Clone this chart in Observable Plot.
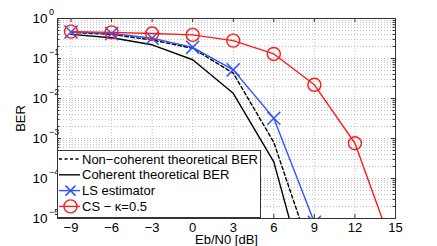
<!DOCTYPE html>
<html><head><meta charset="utf-8">
<script src="https://cdn.jsdelivr.net/npm/d3@7"></script>
<script src="https://cdn.jsdelivr.net/npm/@observablehq/plot@0.6"></script>
<style>body{margin:0;background:#fff}</style>
</head><body><div id="chart"></div>
<script>
const snr = [-9, -6, -3, 0, 3, 6, 9, 12, 15];
const coherent = [0.40, 0.33, 0.22, 0.093, 0.0135, 2.6e-4, 5e-8];
const noncoherent = [0.45, 0.40, 0.29, 0.18, 0.043, 8e-4, 8e-7];
const lsEstimator = [0.46, 0.42, 0.32, 0.19, 0.052, 3.2e-3, 8e-6];
const csKappa = [0.47, 0.45, 0.42, 0.39, 0.28, 0.13, 0.022, 7.6e-4, 1.2e-6];
const seriesNames = ["Non\u2212coherent theoretical BER", "Coherent theoretical BER", "LS estimator", "CS \u2212 \u03ba=0.5"];
const xTicks = [-9, -6, -3, 0, 3, 6, 9, 12, 15];
const yExponents = [0, -1, -2, -3, -4, -5];

const BLUE = "#2f55ff", RED = "#ff1a1a";
const toRows = (vals) => vals.map((v, i) => ({x: snr[i], y: v}));
const rowsCoh = toRows(coherent), rowsNon = toRows(noncoherent), rowsLS = toRows(lsEstimator), rowsCS = toRows(csKappa);
const yMajor = yExponents.map(e => Math.pow(10, e));
const yMinor = [];
for (const e of yExponents) if (e < 0) for (let m = 2; m <= 9; m++) yMinor.push(m * Math.pow(10, e));

const W = 437, H = 246, ML = 57, MR = 42, MT = 18, MB = 28;
const FW = W - ML - MR, FH = H - MT - MB;
const font = "Liberation Sans, Arial, Helvetica, sans-serif";
const grid = {stroke: "#b0b0b0", strokeDasharray: "1,2", strokeWidth: 0.8};
const supMinus = e => e < 0 ? "\u2212" + (-e) : String(e);
const noLab = () => "";
const tk = {stroke: "#333", strokeWidth: 1};

const svg = Plot.plot({
  width: W, height: H,
  marginLeft: ML, marginRight: MR, marginTop: MT, marginBottom: MB,
  style: {fontFamily: font, fontSize: "13px", background: "#fff", color: "#000"},
  x: {domain: [-10, 15]},
  y: {type: "log", domain: [1e-5, 1]},
  marks: [
    Plot.ruleY(yMinor, {...grid}),
    Plot.ruleY(yMajor.slice(1, -1), {...grid}),
    Plot.ruleX(xTicks.slice(0, -1), {...grid}),
    Plot.line(rowsNon, {x: "x", y: "y", stroke: "#000", strokeWidth: 1.4, strokeDasharray: "3.5,2.5", clip: true}),
    Plot.line(rowsCoh, {x: "x", y: "y", stroke: "#000", strokeWidth: 1.4, clip: true}),
    Plot.line(rowsLS, {x: "x", y: "y", stroke: BLUE, strokeWidth: 1.4, clip: true}),
    Plot.dot(rowsLS, {x: "x", y: "y", symbol: "times", r: 6, stroke: BLUE, strokeWidth: 1.5, clip: true}),
    Plot.line(rowsCS, {x: "x", y: "y", stroke: RED, strokeWidth: 1.4, clip: true}),
    Plot.dot(rowsCS, {x: "x", y: "y", symbol: "circle", r: 6.5, stroke: RED, strokeWidth: 1.4, fill: "none", clip: true}),
    // inward tick marks on all four sides
    Plot.tickY(yMajor, {y: d => d, ...tk, insetRight: FW - 4}),
    Plot.tickY(yMajor, {y: d => d, ...tk, insetLeft: FW - 4}),
    Plot.tickY(yMinor, {y: d => d, ...tk, insetRight: FW - 2.5}),
    Plot.tickY(yMinor, {y: d => d, ...tk, insetLeft: FW - 2.5}),
    Plot.tickX(xTicks, {x: d => d, ...tk, insetTop: FH - 4}),
    Plot.tickX(xTicks, {x: d => d, ...tk, insetBottom: FH - 4}),
    Plot.axisX({ticks: xTicks, tickSize: 0, tickPadding: 4, fontSize: 13, label: "Eb/N0 [dB]", labelAnchor: "center", labelArrow: "none", labelOffset: 25}),
    Plot.axisY({ticks: yMajor, tickSize: 0, tickFormat: noLab, label: "BER", labelAnchor: "center", labelArrow: "none", labelOffset: 42}),
    Plot.text(yMajor, {y: d => d, frameAnchor: "left", text: () => "10", textAnchor: "start", dx: -25, fontSize: 13.5}),
    Plot.text(yExponents, {y: e => Math.pow(10, e), frameAnchor: "left", text: e => supMinus(e), textAnchor: "start", dx: -8.5, dy: -6, fontSize: 9}),
    Plot.frame({stroke: "#333", strokeWidth: 1})
  ]
});
document.getElementById("chart").appendChild(svg);

// legend inside the plot area (lower left)
const L = ML, B = H - MB;
const g = d3.select(svg).append("g").attr("font-family", font).attr("font-size", 13).attr("text-anchor", "start");
g.append("rect").attr("x", L + 0.5).attr("y", B - 67.5).attr("width", 203).attr("height", 67)
  .attr("fill", "#fff").attr("stroke", "#333");
const styles = [
  {stroke: "#000", dash: "3,2.5", marker: null},
  {stroke: "#000", dash: null, marker: null},
  {stroke: BLUE, dash: null, marker: "times"},
  {stroke: RED, dash: null, marker: "circle"}
];
seriesNames.forEach((name, i) => {
  const cy = B - 59 + i * 15.8, s = styles[i];
  g.append("line").attr("x1", L + 2).attr("x2", L + 23).attr("y1", cy).attr("y2", cy)
    .attr("stroke", s.stroke).attr("stroke-width", 1.4).attr("stroke-dasharray", s.dash);
  const mx = L + 13.5;
  if (s.marker === "times") {
    g.append("path").attr("d", `M${mx-5},${cy-5}L${mx+5},${cy+5}M${mx-5},${cy+5}L${mx+5},${cy-5}`)
      .attr("stroke", s.stroke).attr("stroke-width", 1.5);
  } else if (s.marker === "circle") {
    g.append("circle").attr("cx", mx).attr("cy", cy).attr("r", 6.5).attr("fill", "none").attr("stroke", s.stroke).attr("stroke-width", 1.4);
  }
  g.append("text").attr("x", L + 25).attr("y", cy).attr("dy", "0.35em").attr("text-anchor", "start").attr("fill", "#000").text(name);
});
</script></body></html>
